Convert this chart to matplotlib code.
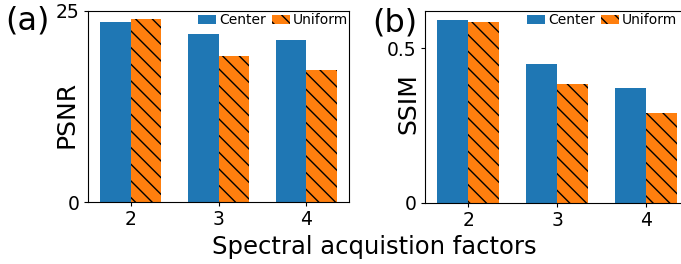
import numpy as np
import matplotlib.pyplot as plt

factors = ['2', '3', '4']
psnr_center = [23.56, 22.03, 21.20]
psnr_uniform = [23.95, 19.11, 17.28]
ssim_center = [0.592, 0.449, 0.371]
ssim_uniform = [0.585, 0.384, 0.290]

W, H = 681, 264
fig = plt.figure(figsize=(W / 100, H / 100), dpi=100)

# axes placed in pixel units, right panel runs past the figure edge (cropped like the original)
ax1 = fig.add_axes([88 / W, 62 / H, 261 / W, 191 / H])
ax2 = fig.add_axes([425 / W, 61.3 / H, 264 / W, 192 / H])

x = np.arange(len(factors))
w = 0.35


def draw(ax, center, uniform):
    ax.bar(x - w / 2, center, w, color='#1f77b4', label='Center')
    ax.bar(x + w / 2, uniform, w, color='#ff7f0e', hatch='\\\\', label='Uniform')
    ax.set_xticks(x)
    ax.set_xticklabels(factors)
    ax.tick_params(labelsize=13.5, length=3, pad=3)


draw(ax1, psnr_center, psnr_uniform)
ax1.set_ylim(0, 25)
ax1.set_yticks([0, 25])
ax1.set_ylabel('PSNR', fontsize=18)
ax1.yaxis.label.set_verticalalignment('center')
ax1.yaxis.set_label_coords(-0.083, 0.46)

draw(ax2, ssim_center, ssim_uniform)
ax2.set_yticks([0, 0.5])
ax2.set_yticklabels(['0', '0.5'])
ax2.set_ylabel('SSIM', fontsize=18)
ax2.yaxis.label.set_verticalalignment('center')
ax2.yaxis.set_label_coords(-0.062, 0.518)

leg_kw = dict(ncol=2, frameon=False, fontsize=10, handlelength=1.3, handleheight=0.6,
              handletextpad=0.2, columnspacing=0.4, borderpad=0.1, borderaxespad=0,
              loc='upper right', bbox_transform=fig.transFigure)
ax1.legend(bbox_to_anchor=(349 / W, 1 - 12 / H), **leg_kw)
ax2.legend(bbox_to_anchor=(678 / W, 1 - 12 / H), **leg_kw)

fig.text(5 / W, 1 - 29.5 / H, '(a)', fontsize=23, ha='left', va='baseline')
fig.text(372 / W, 1 - 31 / H, '(b)', fontsize=23, ha='left', va='baseline')
fig.text(374 / W, 1 - 254 / H, 'Spectral acquistion factors', fontsize=17.5,
         ha='center', va='baseline')

fig.savefig('out.png', dpi=100)
